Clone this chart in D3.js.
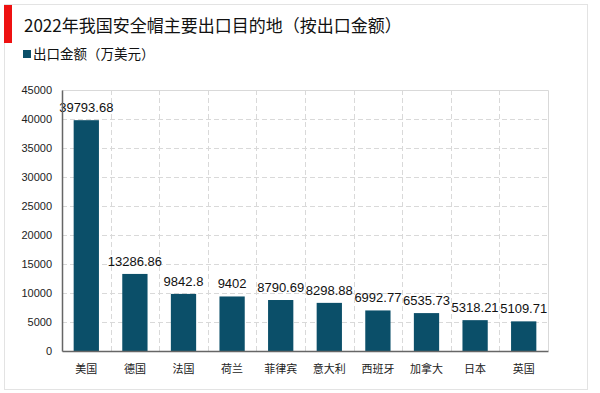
<!DOCTYPE html>
<html>
<head>
<meta charset="utf-8">
<script src="https://cdn.jsdelivr.net/npm/d3@7"></script>
<style>
  body { margin: 0; background: #fff; }
  svg text { font-family: "Liberation Sans", Arial, "Noto Sans CJK SC", sans-serif; }
  .cn { font-family: "Noto Sans CJK SC", sans-serif; }
</style>
</head>
<body>
<div id="chart"></div>
<script>
var categories = ["美国", "德国", "法国", "荷兰", "菲律宾", "意大利", "西班牙", "加拿大", "日本", "英国"];
var values = [39793.68, 13286.86, 9842.8, 9402, 8790.69, 8298.88, 6992.77, 6535.73, 5318.21, 5109.71];
var valueLabels = ["39793.68", "13286.86", "9842.8", "9402", "8790.69", "8298.88", "6992.77", "6535.73", "5318.21", "5109.71"];
var yTicks = [0, 5000, 10000, 15000, 20000, 25000, 30000, 35000, 40000, 45000];

var W = 600, H = 393;
var margin = {left: 62, right: 52, top: 90, bottom: 42};
var barColor = "#0b4f69";

var svg = d3.select("#chart").append("svg")
  .attr("width", W)
  .attr("height", H);

// outer frame
svg.append("rect")
  .attr("x", 4.5).attr("y", 4.5)
  .attr("width", 583).attr("height", 385)
  .attr("fill", "#fff")
  .attr("stroke", "#e3e3e3");

// red marker + title
svg.append("rect")
  .attr("x", 4).attr("y", 5)
  .attr("width", 8).attr("height", 38)
  .attr("fill", "#ee1111");

svg.append("text")
  .attr("class", "cn")
  .attr("x", 24).attr("y", 32)
  .attr("font-size", 17)
  .attr("fill", "#111")
  .text("2022年我国安全帽主要出口目的地（按出口金额）");

// legend
svg.append("rect")
  .attr("x", 23).attr("y", 50)
  .attr("width", 8).attr("height", 8)
  .attr("fill", barColor);
svg.append("text")
  .attr("class", "cn")
  .attr("x", 33).attr("y", 59)
  .attr("font-size", 13.5)
  .attr("fill", "#111")
  .text("出口金额（万美元）");

var x0 = margin.left, x1 = W - margin.right;
var y0 = H - margin.bottom, y1 = margin.top;

var x = d3.scaleBand()
  .domain(categories)
  .range([x0, x1])
  .paddingInner(0.48)
  .paddingOuter(0.24);

var y = d3.scaleLinear()
  .domain([0, 45000])
  .range([y0, y1]);

var g = svg.append("g");

// horizontal grid
g.selectAll("line.hgrid")
  .data(yTicks.filter(d => d > 0 && d < 45000))
  .enter().append("line")
  .attr("class", "hgrid")
  .attr("x1", x0).attr("x2", x1)
  .attr("y1", d => Math.round(y(d)) + 0.5)
  .attr("y2", d => Math.round(y(d)) + 0.5)
  .attr("stroke", "#d9d9d9")
  .attr("stroke-dasharray", "5,3");

// vertical grid at category boundaries
var step = (x1 - x0) / categories.length;
g.selectAll("line.vgrid")
  .data(d3.range(1, categories.length))
  .enter().append("line")
  .attr("class", "vgrid")
  .attr("x1", i => Math.round(x0 + i * step) + 0.5)
  .attr("x2", i => Math.round(x0 + i * step) + 0.5)
  .attr("y1", y1).attr("y2", y0)
  .attr("stroke", "#d9d9d9")
  .attr("stroke-dasharray", "5,3");

// plot top/right border
g.append("path")
  .attr("d", "M" + x0 + "," + (Math.round(y1) + 0.5) + "H" + (x1 + 0.5) + "V" + y0)
  .attr("fill", "none")
  .attr("stroke", "#d9d9d9");

// bars
g.selectAll("rect.bar")
  .data(values)
  .enter().append("rect")
  .attr("class", "bar")
  .attr("x", (d, i) => x(categories[i]))
  .attr("y", d => y(d))
  .attr("width", x.bandwidth())
  .attr("height", d => y0 - y(d))
  .attr("fill", barColor);

// value labels
g.selectAll("text.val")
  .data(values)
  .enter().append("text")
  .attr("class", "val")
  .attr("x", (d, i) => x(categories[i]) + x.bandwidth() / 2)
  .attr("y", d => y(d) - 8)
  .attr("text-anchor", "middle")
  .attr("font-size", 13)
  .attr("fill", "#111")
  .text((d, i) => valueLabels[i]);

// y axis
var yAxis = d3.axisLeft(y).tickValues(yTicks).tickSize(0).tickPadding(10).tickFormat(d3.format("d"));
var ya = svg.append("g")
  .attr("transform", "translate(" + x0 + ",0)")
  .call(yAxis);
ya.select(".domain").attr("stroke", "#666").attr("stroke-width", 1.5);
ya.selectAll("text").attr("font-size", 11).attr("fill", "#222");

// x axis
var xAxis = d3.axisBottom(x).tickSize(0).tickPadding(14);
var xa = svg.append("g")
  .attr("transform", "translate(0," + y0 + ")")
  .call(xAxis);
xa.select(".domain").attr("stroke", "#666").attr("stroke-width", 1.5);
xa.selectAll("text")
  .attr("class", "cn")
  .attr("font-size", 11)
  .attr("fill", "#222");
</script>
</body>
</html>
